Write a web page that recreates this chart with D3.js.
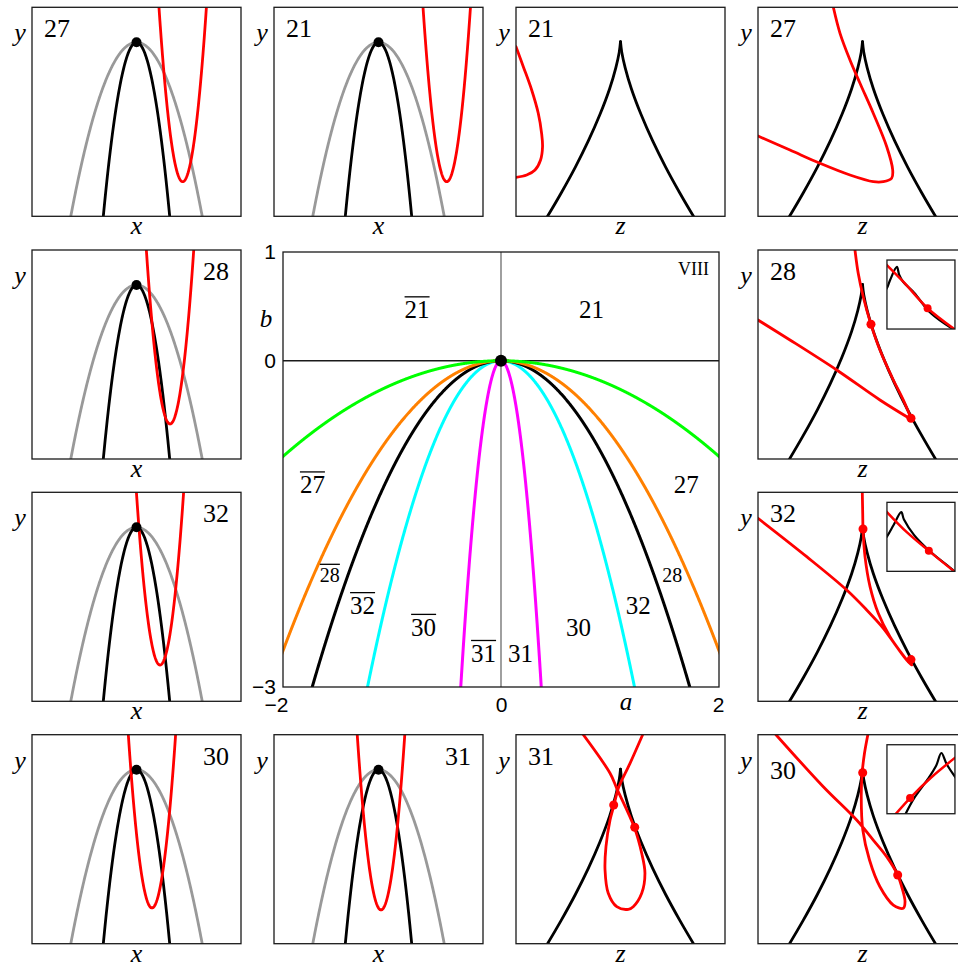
<!DOCTYPE html>
<html><head><meta charset="utf-8">
<script src="https://cdn.jsdelivr.net/npm/d3@7"></script>
<style>
body{margin:0;background:#fff;overflow:hidden}
text{font-family:"Liberation Serif","DejaVu Serif",serif;fill:#000}
.tick text{font-family:"Liberation Sans",Arial,sans-serif;font-size:21px}
.it{font-style:italic}
</style></head><body><script>
// ---------- parameter plane (a, b) ----------
const aTicks = [-2, 0, 2];
const bTicks = [-3, 0, 1];
// boundary curves b = -k a^2
const boundaryK = [22, 2, 1, 2/3, 0.22];
const boundaryColor = ["#ff00ff", "#00ffff", "#000000", "#ff8000", "#00ff00"];
// region labels (a, b) at the text baseline
const regionText = ["21", "21", "27", "28", "32", "30", "31", "31", "30", "32", "28", "27"];
const regionBar  = [true, false, true, true, true, true, true, false, false, false, false, false];
const regionA    = [-0.77, 0.83, -1.73, -1.57, -1.27, -0.71, -0.16, 0.18, 0.71, 1.26, 1.57, 1.70];
const regionB    = [0.39, 0.39, -1.22, -2.03, -2.33, -2.53, -2.77, -2.77, -2.53, -2.33, -2.03, -1.22];
const regionSmall = [false, false, false, true, false, false, false, false, false, false, true, false];

// ---------- small (x, y) panels ----------
const xPanelLabel = ["27", "21", "28", "32", "30", "31"];
const xPanelRow   = [0, 0, 1, 2, 3, 3];
const xPanelCol   = [0, 1, 0, 0, 0, 1];
const xPanelLabelRight = [false, false, true, true, true, true];
const apexX = 0, apexY = 0.665;
const grayCoef = 4.21, blackCoef = 16.5, redCoef = 32.4;
const redVertexX = [0.442, 0.653, 0.321, 0.225, 0.148, 0.024];
const redVertexY = [-0.669, -0.669, -0.665, -0.653, -0.658, -0.677];

// ---------- small (z, y) panels ----------
// left branch of the cusp: horizontal offset from the tip vs. height
const cuspTipY = 0.671;
const cuspDepth  = [0, 0.1, 0.25, 0.45, 0.7, 0.95, 1.2, 1.45, 1.675, 1.8];
const cuspOffset = [0, 0.012, 0.045, 0.104, 0.198, 0.308, 0.432, 0.569, 0.701, 0.778];

const zPanelLabel = ["21", "27", "28", "32", "31", "30"];
const zPanelRow   = [0, 0, 1, 2, 3, 3];
const zPanelCol   = [2, 3, 3, 3, 2, 3];
const zLabelDrop  = [0, 0, 0, 0, 0, 14];
const zRedCurves = [
  [[[-1,0.623],[-0.930,0.432],[-0.850,0.209],[-0.787,-0.014],[-0.755,-0.206],[-0.746,-0.334],[-0.765,-0.461],[-0.818,-0.557],[-0.898,-0.605],[-1,-0.627]]],
  [[[-0.279,1],[-0.215,0.751],[-0.120,0.496],[-0.024,0.273],[0.103,-0.014],[0.232,-0.334],[0.289,-0.557],[0.279,-0.636],[0.199,-0.669],[0.103,-0.669],[-0.120,-0.605],[-0.407,-0.493],[-0.694,-0.366],[-1,-0.232]]],
  [[[-0.072,1],[-0.041,0.777],[0.007,0.553],[0.081,0.289],[0.167,0.043],[0.295,-0.244],[0.390,-0.435],[0.464,-0.610]],
   [[-1,0.330],[-0.694,0.139],[-0.247,-0.148],[0.167,-0.435],[0.464,-0.620]]],
  [[[-0.002,1],[0.002,0.799],[0.005,0.649],[0.024,0.384],[0.072,0.097],[0.151,-0.158],[0.263,-0.382],[0.375,-0.541],[0.438,-0.621],[0.471,-0.653],[0.423,-0.605],[0.327,-0.478],[0.199,-0.301],[0.040,-0.126],[-0.151,0.065],[-0.534,0.384],[-1,0.751]]],
  [[[-0.356,1],[-0.100,0.631],[-0.036,0.487],[0.132,0.114],[0.203,-0.135],[0.234,-0.326],[0.203,-0.518],[0.122,-0.646],[0.075,-0.671],[-0.036,-0.646],[-0.117,-0.518],[-0.148,-0.295],[-0.139,-0.072],[-0.100,0.184],[-0.062,0.327],[-0.021,0.487],[0.091,0.726],[0.212,1]]],
  [[[0.051,1],[0.019,0.822],[-0.003,0.636],[-0.012,0.407],[0.003,0.088],[0.067,-0.199],[0.167,-0.455],[0.295,-0.630],[0.390,-0.661],[0.407,-0.598],[0.375,-0.455],[0.337,-0.343],[0.231,-0.167],[0.103,-0.008],[-0.056,0.184],[-0.375,0.502],[-0.828,1]]]
];
const zRedDots = [
  [], [],
  [[0.081,0.289],[0.464,-0.610]],
  [[0.005,0.649],[0.464,-0.601]],
  [[-0.065,0.327],[0.136,0.114]],
  [[0.002,0.636],[0.337,-0.343]]
];
// magnified views near the cusp tip
const insetPanel = [2, 3, 5];
const insetBlack = [
  [[[-1.1,0.05],[-1,0.187],[-0.904,0.429],[-0.708,0.799],[-0.641,0.574],[-0.525,0.37],[-0.2,0.05],[0.3,-0.55],[1.1,-1.1]]],
  [[[-1.1,-0.1],[-1,0.009],[-0.8,0.35],[-0.58,0.716],[-0.5,0.5],[-0.2,0.05],[0.3,-0.45],[0.936,-0.957],[1.1,-1.1]]],
  [[[-0.5,-1.1],[-0.2,-0.55],[0.2,0.0],[0.45,0.4],[0.6,0.76],[0.75,0.45],[1.03,0.03]]]
];
const insetRed = [
  [[-1.05,0.9],[-0.5,0.35],[0.195,-0.397],[1.05,-1.05]],
  [[-1.05,0.77],[-0.4,0.12],[0.232,-0.406],[1.0,-1.02]],
  [[-0.78,-1.05],[-0.32,-0.545],[0.3,0.05],[1.1,0.7]]
];
const insetDot = [[0.195,-0.397],[0.232,-0.406],[-0.32,-0.545]];

// ---------- drawing ----------
const svg = d3.select("body").append("svg").attr("width", 958).attr("height", 967);
const SIZE = 209;
const colLeft = [32, 274, 516, 758];
const rowTop = [7.3, 250, 492.3, 734.7];
let clipId = 0;

function makePanel(col, row, x0, y0, w, h) {
  const left = x0 !== undefined ? x0 : colLeft[col];
  const top = y0 !== undefined ? y0 : rowTop[row];
  const ww = w || SIZE, hh = h || SIZE;
  const x = d3.scaleLinear().domain([-1, 1]).range([left, left + ww]);
  const y = d3.scaleLinear().domain([-1, 1]).range([top + hh, top]);
  const id = "clip" + (clipId++);
  svg.append("clipPath").attr("id", id).append("rect")
    .attr("x", left).attr("y", top).attr("width", ww).attr("height", hh);
  const g = svg.append("g");
  g.append("rect").attr("x", left).attr("y", top).attr("width", ww).attr("height", hh)
    .attr("fill", "#fff");
  const plot = g.append("g").attr("clip-path", `url(#${id})`);
  return {x, y, g, plot, left, top, w: ww, h: hh};
}
function frame(p) {
  p.g.append("rect").attr("x", p.left).attr("y", p.top).attr("width", p.w).attr("height", p.h)
    .attr("fill", "none").attr("stroke", "#1a1a1a").attr("stroke-width", 1.3);
}
function curve(p, pts, color, width, smooth) {
  const line = d3.line().x(d => p.x(d[0])).y(d => p.y(d[1]));
  if (smooth) line.curve(d3.curveCatmullRom.alpha(0.5));
  p.plot.append("path").attr("d", line(pts)).attr("fill", "none")
    .attr("stroke", color).attr("stroke-width", width)
    .attr("stroke-linejoin", "round").attr("stroke-linecap", "round");
}
function dot(p, pt, color, r) {
  p.plot.append("circle").attr("cx", p.x(pt[0])).attr("cy", p.y(pt[1])).attr("r", r).attr("fill", color);
}
function sampleFn(f) {
  return d3.range(-1.2, 1.2001, 0.004).map(u => [u, f(u)]);
}
function axisTexts(p, horiz, label, right, drop) {
  svg.append("text").attr("class", "it").attr("x", p.left - 12).attr("y", p.top + 34)
    .attr("text-anchor", "middle").attr("font-size", 26).text("y");
  svg.append("text").attr("class", "it").attr("x", p.left + p.w / 2).attr("y", p.top + p.h + 18)
    .attr("text-anchor", "middle").attr("font-size", 26).text(horiz);
  svg.append("text").attr("x", right ? p.left + p.w - 25 : p.left + 25)
    .attr("y", p.top + 30 + (drop || 0)).attr("text-anchor", "middle").attr("font-size", 26).text(label);
}

// x-panels: graphs of the functions
xPanelLabel.forEach((lab, i) => {
  const p = makePanel(xPanelCol[i], xPanelRow[i]);
  curve(p, sampleFn(u => apexY - grayCoef * (u - apexX) ** 2), "#999999", 2.8, false);
  curve(p, sampleFn(u => apexY - blackCoef * (u - apexX) ** 2), "#000", 2.8, false);
  curve(p, sampleFn(u => redVertexY[i] + redCoef * (u - redVertexX[i]) ** 2), "#ff0000", 2.8, false);
  dot(p, [apexX, apexY], "#000", 5);
  frame(p);
  axisTexts(p, "x", lab, xPanelLabelRight[i]);
});

// z-panels
const cuspLeft = cuspDepth.map((d, i) => [-cuspOffset[i], cuspTipY - d]);
const cuspRight = cuspLeft.map(d => [-d[0], d[1]]);
const zPanels = [];
zPanelLabel.forEach((lab, i) => {
  const p = makePanel(zPanelCol[i], zPanelRow[i]);
  zPanels.push(p);
  curve(p, cuspLeft, "#000", 2.8, true);
  curve(p, cuspRight, "#000", 2.8, true);
  zRedCurves[i].forEach(c => curve(p, c, "#ff0000", 2.8, true));
  zRedDots[i].forEach(d => dot(p, d, "#ff0000", 4.5));
  frame(p);
  axisTexts(p, "z", lab, false, zLabelDrop[i]);
});
// insets
insetPanel.forEach((pi, k) => {
  const parent = zPanels[pi];
  const left = parent.x(0.234), top = parent.y(0.904);
  const p = makePanel(null, null, left, top, 68, 69);
  insetBlack[k].forEach(c => curve(p, c, "#000", 2.2, true));
  curve(p, insetRed[k], "#ff0000", 2.5, true);
  dot(p, insetDot[k], "#ff0000", 4);
  frame(p);
});

// ---------- central parameter plane ----------
const xa = d3.scaleLinear().domain([-2, 2]).range([283, 719]);
const yb = d3.scaleLinear().domain([-3, 1]).range([687, 252]);
svg.append("clipPath").attr("id", "clipAB").append("rect")
  .attr("x", 283).attr("y", 252).attr("width", 436).attr("height", 435);
const gAB = svg.append("g");
gAB.append("line").attr("x1", xa(0)).attr("x2", xa(0)).attr("y1", yb(1)).attr("y2", yb(-3))
  .attr("stroke", "#777").attr("stroke-width", 1.4);
gAB.append("line").attr("x1", xa(-2)).attr("x2", xa(2)).attr("y1", yb(0)).attr("y2", yb(0))
  .attr("stroke", "#1a1a1a").attr("stroke-width", 1.3);
const plotAB = gAB.append("g").attr("clip-path", "url(#clipAB)");
const lineAB = d3.line().x(d => xa(d[0])).y(d => yb(d[1]));
boundaryK.forEach((k, i) => {
  const pts = d3.range(-2.1, 2.1001, 0.002).map(a => [a, -k * a * a]);
  plotAB.append("path").attr("d", lineAB(pts)).attr("fill", "none")
    .attr("stroke", boundaryColor[i]).attr("stroke-width", 3);
});
plotAB.append("circle").attr("cx", xa(0)).attr("cy", yb(0)).attr("r", 6).attr("fill", "#000");
gAB.append("rect").attr("x", 283).attr("y", 252).attr("width", 436).attr("height", 435)
  .attr("fill", "none").attr("stroke", "#1a1a1a").attr("stroke-width", 1.3);

const intFmt = d3.format("d");
const axL = gAB.append("g").attr("class", "tick").attr("transform", "translate(283,0)")
  .call(d3.axisLeft(yb).tickValues(bTicks).tickFormat(intFmt).tickSize(0).tickPadding(7));
axL.select(".domain").remove();
const axB = gAB.append("g").attr("class", "tick").attr("transform", "translate(0,687)")
  .call(d3.axisBottom(xa).tickValues(aTicks).tickFormat(intFmt).tickSize(0).tickPadding(10));
axB.select(".domain").remove();
axB.selectAll(".tick text").attr("dx", d => d === -2 ? -7 : d === 2 ? -1 : 0);
gAB.selectAll(".tick text").style("font-family", "'Liberation Sans',Arial,sans-serif").style("font-size", "21px").attr("fill", "#000");

gAB.append("text").attr("class", "it").attr("x", 266).attr("y", 327).attr("text-anchor", "middle")
  .attr("font-size", 25).text("b");
gAB.append("text").attr("class", "it").attr("x", 626).attr("y", 710).attr("text-anchor", "middle")
  .attr("font-size", 25).text("a");
gAB.append("text").attr("x", 709).attr("y", 275).attr("text-anchor", "end")
  .attr("font-size", 18).text("VIII");

regionText.forEach((t, i) => {
  const fs = regionSmall[i] ? 20 : 25;
  const tx = gAB.append("text").attr("x", xa(regionA[i])).attr("y", yb(regionB[i]))
    .attr("text-anchor", "middle").attr("font-size", fs).text(t);
  if (regionBar[i]) {
    const bb = tx.node().getBBox();
    gAB.append("line").attr("x1", bb.x).attr("x2", bb.x + bb.width)
      .attr("y1", yb(regionB[i]) - fs * 0.86).attr("y2", yb(regionB[i]) - fs * 0.86)
      .attr("stroke", "#000").attr("stroke-width", 1.3);
  }
});
</script></body></html>
